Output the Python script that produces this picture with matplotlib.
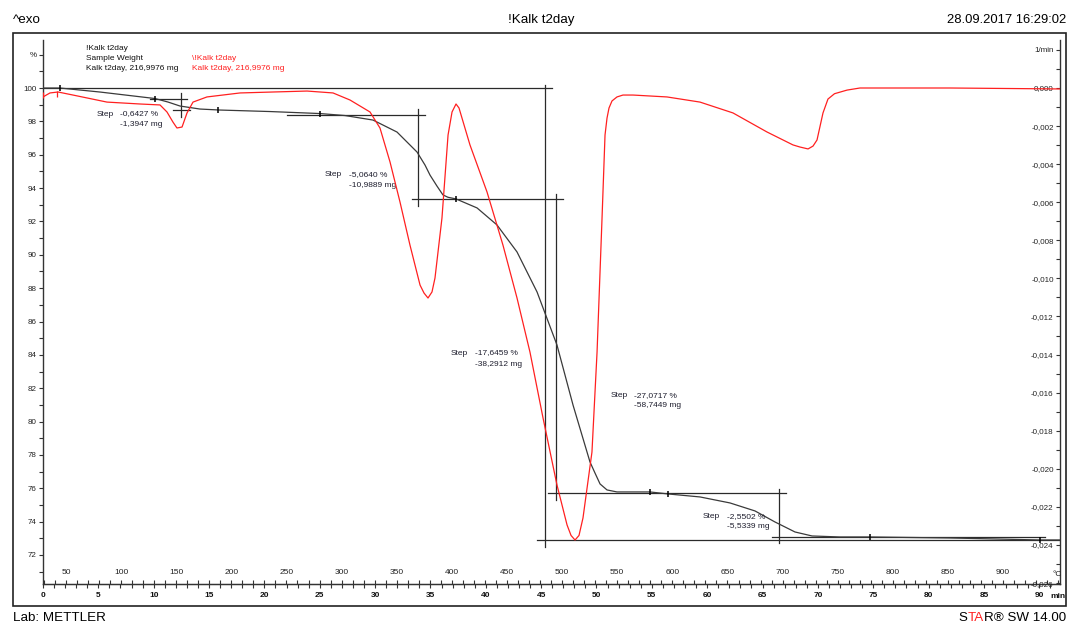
import matplotlib.pyplot as plt
from matplotlib.patches import Rectangle
from matplotlib.ticker import FixedLocator, MultipleLocator

plt.rcParams['font.family'] = ['Liberation Sans', 'DejaVu Sans']

# TGA curve: time (min) vs. sample weight (%)
tg_time = [0.0, 1.54, 5.15, 10.12, 11.29, 12.38, 14.18, 15.99, 20.51, 25.02, 27.28,
           29.81, 31.98, 33.79, 34.51, 34.96, 35.59, 36.13, 36.58, 37.31, 39.21,
           41.01, 42.82, 44.63, 46.43, 47.88, 49.41, 49.86, 50.32, 50.95, 51.85,
           54.83, 56.46, 59.35, 62.06, 64.32, 66.12, 67.93, 69.47, 72.0, 74.71,
           81.93, 90.06, 91.87]
tg_pct = [100.0, 100.0, 99.76, 99.37, 99.16, 98.92, 98.74, 98.68, 98.59, 98.47, 98.35,
          98.08, 97.36, 96.16, 95.38, 94.78, 94.12, 93.59, 93.45, 93.35, 92.81,
          91.79, 90.17, 87.77, 84.59, 80.99, 77.58, 76.92, 76.26, 75.90, 75.78,
          75.78, 75.66, 75.48, 75.12, 74.64, 73.98, 73.38, 73.14, 73.08, 73.08,
          73.02, 72.90, 72.90]

# DTG curve: time (min) vs. 1/min
dtg_time = [0.0, 0.63, 1.36, 2.71, 5.78, 8.76, 10.57, 11.20, 11.74, 12.10, 12.56,
            13.01, 13.55, 14.81, 17.80, 20.78, 23.85, 26.20, 27.73, 29.54, 30.44,
            31.35, 32.25, 33.15, 34.06, 34.42, 34.78, 35.14, 35.41, 36.04, 36.59,
            36.95, 37.31, 37.58, 37.85, 38.57, 40.11, 41.55, 42.82, 43.99, 45.17,
            46.43, 47.34, 47.70, 48.06, 48.42, 48.78, 49.59, 50.05, 50.50, 50.77,
            50.95, 51.13, 51.40, 51.85, 52.39, 53.30, 56.37, 59.35, 62.33, 65.40,
            67.75, 68.38, 69.11, 69.56, 69.92, 70.46, 70.91, 71.5, 72.63, 73.80,
            81.93, 91.87]
dtg_val = [-0.00047, -0.00026, -0.00021, -0.00037, -0.00074, -0.00084, -0.00089,
           -0.00126, -0.00179, -0.00210, -0.00205, -0.00131, -0.00074, -0.00047,
           -0.00026, -0.00021, -0.00016, -0.00026, -0.00063, -0.00126, -0.00210,
           -0.00389, -0.00599, -0.00825, -0.01035, -0.01077, -0.01103, -0.01071,
           -0.00998, -0.00683, -0.00247, -0.00126, -0.00084, -0.00105, -0.00158,
           -0.00299, -0.00546, -0.00825, -0.01103, -0.01387, -0.01733, -0.02085,
           -0.02295, -0.02350, -0.02374, -0.02350, -0.02258, -0.01912, -0.01387,
           -0.00683, -0.00247, -0.00158, -0.00105, -0.00068, -0.00047, -0.00037,
           -0.00037, -0.00047, -0.00074, -0.00131, -0.00231, -0.00299, -0.00310,
           -0.00320, -0.00305, -0.00273, -0.00131, -0.00058, -0.00030, -0.00011,
           0.0, 0.0, -0.00005]

# evaluation limit markers on the TGA curve
mark_time = [1.54, 10.12, 15.81, 25.02, 37.31, 54.83, 56.46, 74.71, 90.06]
mark_pct = [100.0, 99.37, 98.7, 98.47, 93.35, 75.78, 75.66, 73.08, 72.90]

# step evaluations
step_pct = ['-0,6427 %', '-5,0640 %', '-17,6459 %', '-27,0717 %', '-2,5502 %']
step_mg = ['-1,3947 mg', '-10,9889 mg', '-38,2912 mg', '-58,7449 mg', '-5,5339 mg']

# temperature program (°C = T0 + rate * min)
T0 = 29.2
rate = 10.04

W, H = 1069, 625
fig = plt.figure(figsize=(W / 100, H / 100), dpi=100)


def fx(px):
    return px / W


def fy(py):
    return 1 - py / H


ax = fig.add_axes([fx(43), fy(584), fx(1060) - fx(43), fy(40) - fy(584)])
ax.patch.set_alpha(0)
ax2 = ax.twinx()

line_c = '#3a3a3a'
ax.plot(tg_time, tg_pct, color=line_c, lw=0.9, zorder=3)
ax.plot(mark_time, mark_pct, ls='none', marker='|', ms=5, mew=1.1, color='black', zorder=4)
ax2.plot(dtg_time, dtg_val, color='#ff2020', lw=0.9, zorder=3)
ax2.plot([0.0, 1.3], [-0.00035, -0.0003], ls='none', marker='|', ms=5, mew=0.9, color='#ff2020')

ax.set_xlim(0, 91.87)
ax.set_ylim(70.26, 102.88)
ax2.set_ylim(-0.02605, 0.002521)

# step evaluation lines
seg = dict(color='#2a2a2a', lw=0.9, zorder=2)
# step 1
ax.plot([9.67, 13.0], [99.34, 99.34], **seg)
ax.plot([11.74, 13.28], [98.68, 98.68], **seg)
ax.plot([12.47, 12.47], [99.70, 98.26], **seg)
# step 2
ax.plot([22.0, 34.5], [98.38, 98.38], **seg)
ax.plot([33.88, 33.88], [98.74, 92.93], **seg)
ax.plot([33.33, 46.97], [93.35, 93.35], **seg)
# step 3
ax.plot([46.34, 46.34], [93.65, 75.30], **seg)
ax.plot([45.62, 67.12], [75.72, 75.72], **seg)
# step 4
ax.plot([0.0, 45.98], [100.0, 100.0], **seg)
ax.plot([45.35, 45.35], [100.18, 72.48], **seg)
ax.plot([44.63, 91.87], [72.90, 72.90], **seg)
# step 5
ax.plot([66.49, 66.49], [75.96, 72.72], **seg)
ax.plot([65.85, 90.5], [73.08, 73.08], **seg)

txt_c = '#1e1e2e'
step_pos = [(4.88, 98.44, 6.96, 97.84), (25.47, 94.84, 27.65, 94.18),
            (36.85, 84.11, 39.02, 83.45), (51.31, 81.59, 53.39, 80.99),
            (59.62, 74.28, 61.79, 73.68)]
for (xs, ys, xv, ym), p, m in zip(step_pos, step_pct, step_mg):
    ax.text(xs, ys, 'Step', fontsize=6, color=txt_c, va='center')
    ax.text(xv, ys, p, fontsize=6, color=txt_c, va='center')
    ax.text(xv, ym, m, fontsize=6, color=txt_c, va='center')

# spines
for a in (ax, ax2):
    for s in a.spines.values():
        s.set_color('#333333')
        s.set_linewidth(1.0)
ax.spines['top'].set_visible(False)
ax.spines['right'].set_visible(False)
for s in ('top', 'left', 'bottom'):
    ax2.spines[s].set_visible(False)

# left axis (%)
left_ticks = list(range(72, 103, 2))
ax.yaxis.set_major_locator(FixedLocator(left_ticks))
ax.set_yticklabels([str(v) if v != 102 else '%' for v in left_ticks])
ax.yaxis.set_minor_locator(MultipleLocator(1))
ax.tick_params(axis='y', which='both', direction='out', length=3, width=0.8,
               labelsize=5.8, pad=1.5, colors='#333333', labelcolor='#222222')

# bottom axis (min)
ax.xaxis.set_major_locator(MultipleLocator(5))
ax.xaxis.set_minor_locator(MultipleLocator(1))
ax.tick_params(axis='x', which='both', direction='out', length=3, width=0.8,
               labelsize=6, pad=2.5, colors='#333333', labelcolor='#111111')
for lab in ax.get_xticklabels():
    lab.set_fontweight('bold')

# temperature axis (°C) on the same line, labels above
sec = ax.secondary_xaxis(0.0, functions=(lambda t: T0 + rate * t,
                                         lambda T: (T - T0) / rate))
sec.set_alignment('top')
sec.xaxis.set_major_locator(FixedLocator(list(range(50, 901, 50))))
sec.xaxis.set_minor_locator(MultipleLocator(10))
sec.tick_params(which='both', direction='out', length=3, width=0.8,
                labelsize=6, pad=2.5, colors='#333333', labelcolor='#222222')
sec.spines['top'].set_color('#333333')

# right axis (1/min)
right_ticks = [round(-0.026 + 0.002 * i, 3) for i in range(15)]
ax2.yaxis.set_major_locator(FixedLocator(right_ticks))
ax2.set_yticklabels(['1/min' if v > 0.001 else f'{abs(v):.3f}'.replace('.', ',')
                     if v == 0 else f'{v:.3f}'.replace('.', ',') for v in right_ticks])
ax2.yaxis.set_minor_locator(MultipleLocator(0.001))
ax2.tick_params(axis='y', which='both', direction='in', length=3, width=0.8,
                labelsize=5.8, pad=-4.5, colors='#333333', labelcolor='#222222')
for t in ax2.yaxis.get_major_ticks():
    t.label2.set_horizontalalignment('right')

fig.text(fx(1057), fy(575), '°C', fontsize=6, ha='center', va='center', color='#222222')
fig.text(fx(1058), fy(597), 'min', fontsize=6, ha='center', va='center',
         color='#111111', fontweight='bold')

# legend block
fig.text(fx(86), fy(48), '!Kalk t2day', fontsize=6, va='center', color='#111111')
fig.text(fx(86), fy(58.5), 'Sample Weight', fontsize=6, va='center', color='#111111')
fig.text(fx(86), fy(69), 'Kalk t2day, 216,9976 mg', fontsize=6, va='center', color='#111111')
fig.text(fx(192), fy(58.5), '\\!Kalk t2day', fontsize=6, va='center', color='#ff2020')
fig.text(fx(192), fy(69), 'Kalk t2day, 216,9976 mg', fontsize=6, va='center', color='#ff2020')

# frame, header and footer
fig.add_artist(Rectangle((fx(13), fy(606)), fx(1066) - fx(13), fy(33) - fy(606),
                         transform=fig.transFigure, fill=False, lw=1.2, ec='#222222'))
fig.text(fx(13), fy(20), '^exo', fontsize=9.6, va='center', ha='left')
fig.text(fx(541), fy(20), '!Kalk t2day', fontsize=9.6, va='center', ha='center')
fig.text(fx(1066), fy(20), '28.09.2017 16:29:02', fontsize=9.4, va='center', ha='right')
fig.text(fx(13), fy(618), 'Lab: METTLER', fontsize=9.6, va='center', ha='left')

t3 = fig.text(fx(1066), fy(618), 'R\u00ae SW 14.00', fontsize=9.6, va='center', ha='right')
t2 = ax.annotate('TA', xy=(0, 0), xycoords=t3, ha='right', va='bottom',
                 fontsize=9.6, color='#ff2020', annotation_clip=False)
ax.annotate('S', xy=(0, 0), xycoords=t2, ha='right', va='bottom',
            fontsize=9.6, annotation_clip=False)

fig.savefig('out.png', dpi=100)
